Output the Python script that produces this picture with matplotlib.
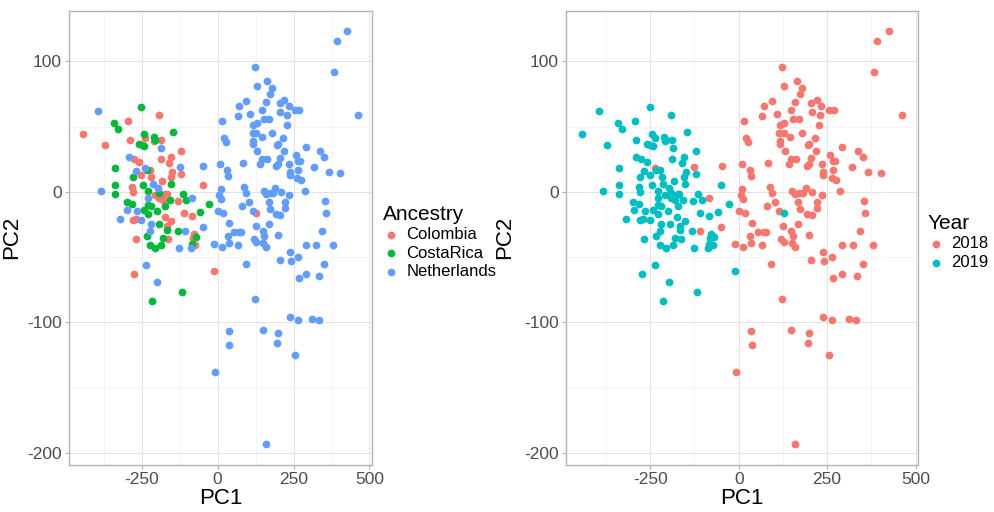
import matplotlib
matplotlib.use("Agg")
import matplotlib.pyplot as plt
import numpy as np
import pandas as pd

plt.rcParams['font.family'] = ['Liberation Sans', 'DejaVu Sans']
plt.rcParams['axes.unicode_minus'] = False

# ---- PCA scores per sample ----
colombia_pc1 = [-444, -371, -294, -192, -289, -238, -250, -275, -258, -252, -223, -218,
                -283, -278, -172, -192, -280, -270, -269, -274, -188, -122, -155, -188,
                -161, -150, -120, -155, -183, -49, -168, -130, -179, -110, -83, -174,
                -153, -166, -77, -82, -163, -73, -11, 127, -209, -207]
colombia_pc2 = [44, 36, 54, 59, 40, 41, 36, 25, 23, 13, 16.5, 11,
                4, 0, -2, -5, -21.5, -21, -36, -63, 40, 31, 27, 25,
                22, 15, 14, 11, 8, 5, -2, -7, -6, -16, -18.5, -19.5,
                -22, -26, -32, -35.5, -36, -41, -61, -16, 39, -2.5]

costarica_pc1 = [-252, -342, -329, -244, -210, -206, -260, -241, -339, -280, -338, -337,
                 -245, -229, -192, -300, -282, -229, -220, -243, -229, -199, -194, -234,
                 -181, -222, -206, -185, -215, -146, -152, -115, -158, -103, -27, -58,
                 -131, -71, -85, -118, -167, -172, -234]
costarica_pc2 = [65, 53, 48, 44, 42, 40, 37, 35, 18, 11, 5, -1.5,
                 5, 1, -0.5, -8, -9.5, -10, -11, -14, -17, -15, -25, -34,
                 -35, -41, -43, -41, -84, 46, 6, -2, -6, -6, -9, -15.5,
                 -30, -34.5, -40, -77, -29, -11, 17]

netherlands_pc1 = [-395, -186, -291, -238, -269, -385, -214, -196, -228, -297, -265, -320,
                   -252, -219, -223, -236, -198, -125, -48, -83, -109, -49, -87, -126,
                   72, 66, 16, 20, 26, 9, 31, 34, 10, 6, 12, 0, 18, 37, 33, 55, 72, 36,
                   -11, 13, 66,
                   426, 392, 383, 463, 123, 164, 129, 180, 174, 94, 160, 204, 220, 234,
                   256, 269, 147, 107, 206, 230, 154, 170, 129, 118, 227,
                   115, 127, 116, 118, 179, 145, 215, 200, 196, 131, 219, 292, 337, 351,
                   204, 147, 163, 141, 83, 258, 266, 272, 236, 200, 193, 319, 266, 239,
                   239, 366, 403, 263, 275, 88, 94, 152, 160, 171, 182, 190, 208, 236,
                   287, 104, 80, 169, 221, 221, 173, 115, 192, 206, 355, 358, 126, 168,
                   77, 149, 153, 200, 343, 120, 127, 151, 158, 291, 324, 379, 239, 264,
                   204, 241, 92, 351, 292, 268, 334, 123, 238, 264, 312, 333, 36, 149,
                   200, 39, 195, 255, -9, 158]
netherlands_pc2 = [62, 33.5, 27, 18, 16, 0.5, 6, 3, -5, -14, -15, -21,
                   -21.5, -25, -30, -56, -69, 19, 20, -5, -30, -27, -43, -43,
                   65.5, 58, 54, 41, 38, 21, 16.5, 12, 2, -2.5, -5.6, -14.5, -16.5, -24, -34,
                   -31, -31, -39, -40, -42, -41,
                   123, 115.5, 92, 59, 96, 85, 81, 79.5, 75, 70, 69, 68, 70.6, 66,
                   63, 63, 62.5, 60, 61, 59, 56, 56, 53, 51, 51,
                   45, 45, 39, 37, 45, 42, 41, 37, 36, 31.5, 31, 34, 31, 27,
                   26, 25, 25, 21, 22, 28.5, 24, 24, 21, 21, 20, 19, 17, 15,
                   12.7, 15, 14.5, 10.7, 9.4, 4, -1, 1, -2, -1, -1, 3, 0, -2.5,
                   0.5, -7.6, -11, -8, -8, -12, -13, -15, -17, -18, -7, -16.5, -26, -25,
                   -31, -30, -33.5, -33, -30, -36, -38.5, -39, -42, -41, -41, -41, -46, -50,
                   -52.5, -53, -55, -55.6, -63, -66, -64.5, -82, -96, -98, -97.5, -98, -107, -106,
                   -108, -117, -115.5, -125, -138, -193.5]
netherlands_year = (["2019"] * 3 + ["2018"] + ["2019"] * 13 + ["2018"] * 5 + ["2019"] * 2
                    + ["2018"] * (len(netherlands_pc1) - 24))

ancestry_levels = ["Colombia", "CostaRica", "Netherlands"]
ancestry_colors = ["#F8766D", "#00BA38", "#619CFF"]
year_levels = ["2018", "2019"]
year_colors = ["#F8766D", "#00BFC4"]

df = pd.concat([
    pd.DataFrame({"PC1": colombia_pc1, "PC2": colombia_pc2,
                  "Ancestry": "Colombia", "Year": "2019"}),
    pd.DataFrame({"PC1": costarica_pc1, "PC2": costarica_pc2,
                  "Ancestry": "CostaRica", "Year": "2019"}),
    pd.DataFrame({"PC1": netherlands_pc1, "PC2": netherlands_pc2,
                  "Ancestry": "Netherlands", "Year": netherlands_year}),
], ignore_index=True)

W, H = 995, 512
fig = plt.figure(figsize=(W / 100, H / 100), dpi=100)
fig.patch.set_facecolor("white")


def px_axes(x0, y0, x1, y1):
    return fig.add_axes([x0 / W, 1 - y1 / H, (x1 - x0) / W, (y1 - y0) / H])


def style(ax, ylabel_x):
    ax.margins(x=0.05, y=0.05)
    ax.set_xticks([-250, 0, 250, 500])
    ax.set_yticks([-200, -100, 0, 100])
    ax.set_xticks([-375, -125, 125, 375], minor=True)
    ax.set_yticks([-150, -50, 50], minor=True)
    ax.grid(True, which="major", color="#DEDEDE", linewidth=0.6)
    ax.grid(True, which="minor", color="#EEEEEE", linewidth=0.4)
    ax.set_axisbelow(True)
    for s in ax.spines.values():
        s.set_color("#B3B3B3")
        s.set_linewidth(1.0)
    ax.tick_params(which="major", length=3, width=0.8, color="#B3B3B3",
                   labelsize=12.5, labelcolor="#4D4D4D", pad=2)
    ax.tick_params(which="minor", length=0)
    ax.set_xlabel("PC1", fontsize=16, labelpad=1)
    ax.set_ylabel("PC2", fontsize=16)
    ax.yaxis.set_label_coords(ylabel_x, 0.5)


def draw(ax, column, levels, colors, legend_x, title, ylabel_x):
    handles = []
    for lvl, col in zip(levels, colors):
        sub = df[df[column] == lvl]
        h = ax.scatter(sub["PC1"], sub["PC2"], s=31, color=col, linewidths=0, label=lvl)
        handles.append(h)
    style(ax, ylabel_x)
    leg = ax.legend(handles=handles, title=title, loc="center left",
                    bbox_to_anchor=(legend_x / W, 1 - 242 / H),
                    bbox_transform=fig.transFigure,
                    frameon=False, fontsize=12, title_fontsize=15,
                    handletextpad=0.4, labelspacing=0.22, borderaxespad=0,
                    borderpad=0, handlelength=1.0)
    leg._legend_box.align = "left"


ax1 = px_axes(69, 10.7, 372, 465)
draw(ax1, "Ancestry", ancestry_levels, ancestry_colors, 383, "Ancestry", -0.155)

ax2 = px_axes(565.6, 10.7, 918.5, 465)
draw(ax2, "Year", year_levels, year_colors, 928, "Year", -0.143)

fig.savefig("out.png", dpi=100, facecolor="white")
